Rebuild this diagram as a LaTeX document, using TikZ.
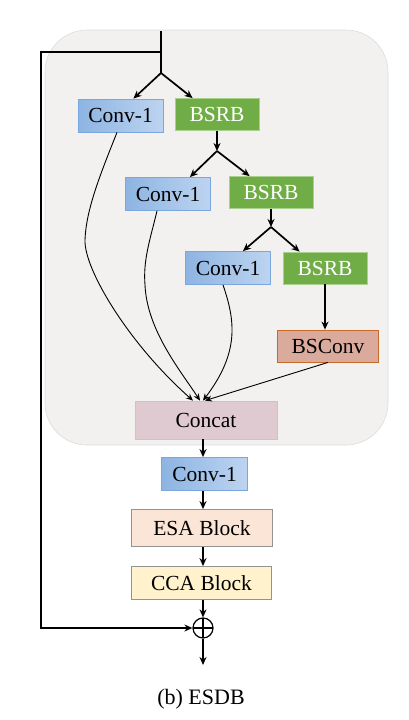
\documentclass[tikz,border=0pt]{standalone}
\usepackage{fontspec}
\setmainfont{Liberation Serif}
\usetikzlibrary{arrows.meta,calc}
\definecolor{bgfill}{HTML}{F2F1F0}
\definecolor{bgline}{HTML}{DEDCDA}
\definecolor{convL}{HTML}{8DB4E2}
\definecolor{convR}{HTML}{BDD4F0}
\definecolor{convline}{HTML}{79A7DE}
\definecolor{bsrbfill}{HTML}{70AD47}
\definecolor{bsrbline}{HTML}{A9D18E}
\definecolor{bscfill}{HTML}{DAAA9C}
\definecolor{bscline}{HTML}{C86A2A}
\definecolor{catfill}{HTML}{E0CAD1}
\definecolor{catline}{HTML}{CFC2C4}
\definecolor{esafill}{HTML}{FBE5D6}
\definecolor{ccafill}{HTML}{FFF2CC}
\definecolor{greyline}{HTML}{939393}
\tikzset{
  blk/.style={draw, line width=0.8pt, inner sep=0pt, font=\fontsize{21.5}{24}\selectfont},
  convbox/.style={blk, draw=convline, left color=convL, right color=convR, minimum width=85pt, minimum height=33pt},
  bsrbbox/.style={blk, draw=bsrbline, fill=bsrbfill, text=white, minimum width=84pt, minimum height=32pt},
  main/.style={line width=1.7pt, -{Stealth[length=8pt,width=7pt]}},
  plain/.style={line width=1.7pt},
  thin/.style={line width=0.9pt, -{Stealth[length=7pt,width=6pt]}},
}
\begin{document}
\begin{tikzpicture}[x=1pt,y=-1pt]
\useasboundingbox (0,0) rectangle (408,720);
\fill[bgfill, draw=bgline, line width=0.6pt, rounded corners=42pt] (45,30) rectangle (388,445);

\node[convbox] (c1) at (120.5,115.5) {Conv-1};
\node[bsrbbox] (b1) at (217,114.5) {BSRB};
\node[convbox] (c2) at (168,194) {Conv-1};
\node[bsrbbox] (b2) at (271,192.5) {BSRB};
\node[convbox] (c3) at (228,268) {Conv-1};
\node[bsrbbox] (b3) at (325,268) {BSRB};
\node[blk, draw=bscline, fill=bscfill, minimum width=101pt, minimum height=32pt] (bsc) at (328,346) {BSConv};
\node[blk, draw=catline, fill=catfill, minimum width=142pt, minimum height=38pt] (cat) at (206,420) {Concat};
\node[convbox, minimum width=86pt] (c4) at (204.5,474) {Conv-1};
\node[blk, draw=greyline, fill=esafill, minimum width=141pt, minimum height=37pt] (esa) at (202,528) {ESA Block};
\node[blk, draw=greyline, fill=ccafill, minimum width=140pt, minimum height=33pt] (cca) at (201.5,583) {CCA Block};
\node[circle, draw, line width=1.2pt, minimum size=20pt, inner sep=0pt,
  path picture={\draw[line width=1.2pt] (path picture bounding box.north) -- (path picture bounding box.south)
  (path picture bounding box.west) -- (path picture bounding box.east);}] (plus) at (203,628) {};
\coordinate (out) at (203,665);
\node[font=\fontsize{22}{24}\selectfont] (cap) at (201,699) {(b) ESDB};

\coordinate (top) at (161,31);
\coordinate (s) at (161,52);
\coordinate (sl) at (41,52);
\coordinate (j1) at (161,73);
\coordinate (j2) at (217,151);
\coordinate (j3) at (271,227);

% input and skip
\draw[plain] (top) -- (j1);
\draw[main] (s) -- (sl) -- (sl |- plus) -- (plus.west);

% branches
\draw[main] (j1) -- ([xshift=-30pt]c1.north east);
\draw[main] (j1) -- ([xshift=18pt]b1.north west);
\draw[main] (b1.south) -- (j2);
\draw[main] (j2) -- ([xshift=-21pt]c2.north east);
\draw[main] (j2) -- ([xshift=21pt]b2.north west);
\draw[main] (b2.south) -- (j3);
\draw[main] (j3) -- ([xshift=-28pt]c3.north east);
\draw[main] (j3) -- ([xshift=17pt]b3.north west);
\draw[main] (b3.south) -- (bsc.north -| b3.south);

% curves into concat
\draw[thin] ([xshift=-3.5pt]c1.south) .. controls (100,175) and (86,210) .. (85,240)
   .. controls (84,270) and (130,345) .. ([xshift=-13pt]cat.north);
\draw[thin] ([xshift=-11pt]c2.south) .. controls (150,240) and (143,260) .. (145,285)
   .. controls (147,330) and (180,370) .. ([xshift=-6pt]cat.north);
\draw[thin] ([xshift=-5pt]c3.south) .. controls (235,320) and (240,352) .. ([xshift=-3pt]cat.north);
\draw[thin] (bsc.south) -- ([xshift=-1pt]cat.north);

% main column
\draw[main] (cat.south -| plus) -- (c4.north -| plus);
\draw[main] (c4.south -| plus) -- (esa.north -| plus);
\draw[main] (esa.south -| plus) -- (cca.north -| plus);
\draw[main] (cca.south -| plus) -- (plus.north);
\draw[main] (plus.south) -- (out);
\end{tikzpicture}
\end{document}
